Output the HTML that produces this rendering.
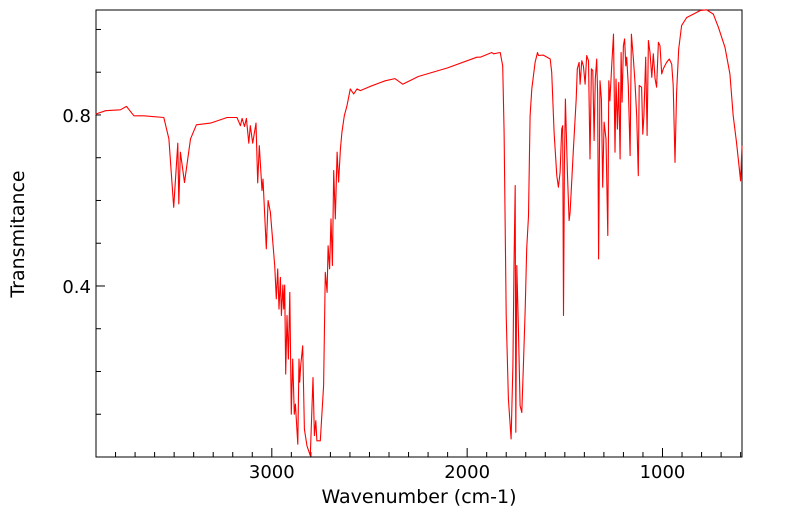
<!DOCTYPE html>
<html><head><meta charset="utf-8"><style>
body{margin:0;background:#fff;}
svg{display:block;font-family:"DejaVu Sans","Liberation Sans",sans-serif;}
</style></head><body>
<svg id="chart" width="799" height="516" xmlns="http://www.w3.org/2000/svg">
<rect x="96" y="10" width="646" height="447" fill="none" stroke="#000" stroke-width="1"/>
<g id="ticks"></g>
<path id="line" fill="none" stroke="#ff0000" stroke-width="1.1" stroke-linejoin="round"/>
<text x="419" y="503" font-size="19" text-anchor="middle">Wavenumber (cm-1)</text>
<text transform="translate(24,234) rotate(-90)" font-size="19" text-anchor="middle">Transmitance</text>
</svg>
<script>
const wavenumbers=[3902,3851,3775,3744,3706,3655,3553,3527,3502,3481,3476,3468,3447,3416,3386,3314,3229,3178,3161,3152,3140,3130,3118,3110,3098,3081,3072,3064,3050,3045,3028,3019,3007,2985,2977,2970,2963,2956,2951,2943,2939,2934,2929,2922,2915,2908,2900,2893,2885,2879,2867,2861,2857,2852,2842,2833,2820,2803,2789,2782,2775,2769,2752,2735,2726,2717,2712,2704,2697,2690,2683,2675,2666,2658,2649,2641,2629,2615,2598,2581,2564,2547,2500,2420,2370,2330,2250,2100,1950,1933,1874,1865,1831,1818,1811,1800,1789,1775,1766,1760,1754,1751,1746,1737,1729,1720,1712,1703,1695,1686,1681,1678,1669,1652,1640,1635,1610,1575,1567,1555,1541,1533,1524,1516,1511,1507,1502,1497,1487,1478,1473,1456,1442,1436,1427,1422,1413,1405,1396,1388,1379,1371,1364,1357,1350,1344,1337,1332,1327,1320,1313,1306,1299,1289,1280,1275,1269,1260,1251,1243,1238,1231,1224,1217,1212,1207,1200,1194,1188,1183,1175,1166,1159,1149,1141,1132,1124,1119,1107,1101,1095,1086,1079,1072,1064,1055,1047,1038,1030,1021,1013,1004,996,979,965,953,945,936,928,917,902,876,842,808,774,740,714,680,655,638,621,600,593];
const transmittance=[0.802,0.810,0.812,0.820,0.798,0.798,0.794,0.744,0.584,0.734,0.592,0.713,0.642,0.744,0.777,0.781,0.794,0.794,0.775,0.792,0.773,0.792,0.734,0.775,0.734,0.781,0.641,0.728,0.623,0.650,0.487,0.600,0.572,0.448,0.370,0.440,0.346,0.420,0.331,0.402,0.346,0.402,0.194,0.331,0.229,0.385,0.100,0.229,0.100,0.124,0.030,0.229,0.175,0.214,0.260,0.065,0.026,0.003,0.186,0.050,0.085,0.038,0.038,0.167,0.432,0.385,0.494,0.440,0.557,0.448,0.670,0.557,0.713,0.643,0.720,0.759,0.798,0.822,0.861,0.849,0.861,0.857,0.866,0.880,0.885,0.872,0.890,0.910,0.935,0.935,0.946,0.943,0.946,0.915,0.759,0.331,0.136,0.042,0.214,0.448,0.635,0.058,0.448,0.292,0.120,0.104,0.214,0.346,0.487,0.564,0.713,0.798,0.861,0.923,0.946,0.939,0.940,0.931,0.900,0.759,0.658,0.631,0.666,0.767,0.775,0.331,0.681,0.837,0.666,0.553,0.572,0.720,0.837,0.908,0.923,0.872,0.927,0.915,0.872,0.939,0.927,0.697,0.908,0.904,0.740,0.884,0.931,0.853,0.463,0.880,0.837,0.631,0.783,0.744,0.518,0.880,0.833,0.915,0.989,0.713,0.884,0.767,0.876,0.697,0.946,0.830,0.962,0.978,0.915,0.935,0.869,0.705,0.989,0.931,0.876,0.798,0.658,0.869,0.865,0.755,0.798,0.935,0.752,0.974,0.946,0.888,0.943,0.884,0.865,0.970,0.962,0.896,0.908,0.923,0.931,0.919,0.869,0.689,0.853,0.954,1.009,1.028,1.036,1.044,1.046,1.036,1.005,0.958,0.896,0.798,0.736,0.646,0.728];
const xTickLabels=[3000,2000,1000];
const yTickLabels=[0.8,0.4];
const X0=3900,X1=593,L=96,R=742,T0=0,T1=1.0455,B=457,TOP=10;
const xs=w=>L+(X0-w)/(X0-X1)*(R-L);
const ys=t=>B-(t-T0)/(T1-T0)*(B-TOP);
const NS="http://www.w3.org/2000/svg";
let d="";
wavenumbers.forEach((w,i)=>{d+=(i?"L":"M")+xs(w).toFixed(1)+","+ys(transmittance[i]).toFixed(1);});
document.getElementById("line").setAttribute("d",d);
const g=document.getElementById("ticks");
const svg=document.getElementById("chart");
function ln(x1,y1,x2,y2){const l=document.createElementNS(NS,"line");l.setAttribute("x1",x1);l.setAttribute("y1",y1);l.setAttribute("x2",x2);l.setAttribute("y2",y2);l.setAttribute("stroke","#000");


g.appendChild(l);}
for(let w=3800;w>=600;w-=100){const x=xs(w);const major=w%1000===0;ln(x,B,x,B-(major?9:5));}
for(let t=0.1;t<=1.01;t+=0.1){const y=ys(t);const major=Math.abs(t*10%4)<0.01;ln(L,y,L+(major?9:5),y);}
xTickLabels.forEach(v=>{const t=document.createElementNS(NS,"text");t.setAttribute("x",xs(v));t.setAttribute("y",478);t.setAttribute("font-size","18");t.setAttribute("text-anchor","middle");t.textContent=v;


svg.appendChild(t);});
yTickLabels.forEach(v=>{const t=document.createElementNS(NS,"text");t.setAttribute("x",91);t.setAttribute("y",ys(v)+7);t.setAttribute("font-size","18");t.setAttribute("text-anchor","end");t.textContent=v.toFixed(1);


svg.appendChild(t);});
</script>
</body></html>
